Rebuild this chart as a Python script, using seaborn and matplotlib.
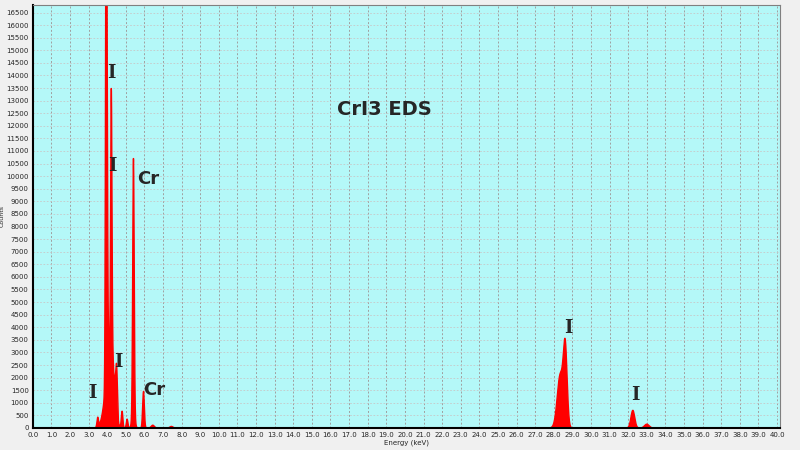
import numpy as np
import matplotlib
matplotlib.use("Agg")
import matplotlib.pyplot as plt
import seaborn as sns

sns.set_style("white")

# peak list: centre (keV), height (counts), width (keV)
peak_kev = [3.49, 3.94, 3.98, 4.12, 4.22, 4.30, 4.51, 4.43, 4.80, 5.07, 5.41, 5.95, 6.45, 7.45,
            4.10, 5.41, 28.35, 28.62, 32.25, 33.00]
peak_cts = [380, 15500, 10000, 800, 10800, 1200, 1800, 1000, 650, 350, 9900, 1450, 110, 60,
            2300, 800, 2100, 3000, 700, 150]
peak_wid = [0.04, 0.035, 0.04, 0.08, 0.035, 0.05, 0.04, 0.05, 0.04, 0.04, 0.04, 0.045, 0.08, 0.08,
            0.22, 0.07, 0.16, 0.10, 0.10, 0.12]

labels = ["I", "I", "Cr", "I", "I", "Cr", "I", "I"]
label_x = [4.25, 4.3, 6.2, 4.6, 3.2, 6.55, 28.8, 32.4]
label_y = [14100, 10400, 9900, 2600, 1400, 1500, 3950, 1300]
label_serif = [True, True, False, True, True, False, True, True]

energy = np.arange(0, 40.2, 0.005)
counts = np.zeros_like(energy)
for c, h, w in zip(peak_kev, peak_cts, peak_wid):
    counts += h * np.exp(-0.5 * ((energy - c) / w) ** 2)

fig = plt.figure(figsize=(8, 4.5), dpi=100, facecolor="#f0f0f0")
ax = fig.add_axes([0.041, 0.049, 0.934, 0.94])
ax.set_facecolor("#b4f8f8")
ax.fill_between(energy, counts, color="red", linewidth=0)
ax.plot(energy, counts, color="red", lw=1.0)

ax.set_xlim(0, 40.16)
ax.set_ylim(0, 16800)
ax.set_xticks(np.arange(0, 41, 1.0))
ax.set_xticklabels([f"{v:.1f}" for v in np.arange(0, 41, 1.0)], fontsize=5)
ax.set_yticks(np.arange(0, 16501, 500))
ax.set_yticklabels([str(v) for v in range(0, 16501, 500)], fontsize=5)
ax.tick_params(length=2, pad=1)
ax.xaxis.grid(True, color="#a0a0a0", linestyle=(0, (2, 2)), linewidth=0.7)
ax.yaxis.grid(True, color="#c8c8c8", linestyle=(0, (2, 2)), linewidth=0.6)
ax.set_xlabel("Energy (keV)", fontsize=5, labelpad=1)
ax.set_ylabel("Counts", fontsize=4.5, labelpad=1)
for s in ax.spines.values():
    s.set_color("#808080")
ax.spines["left"].set_color("black")
ax.spines["left"].set_linewidth(1.5)
ax.spines["bottom"].set_color("black")
ax.spines["bottom"].set_linewidth(1.5)

for t, x, y, serif in zip(labels, label_x, label_y, label_serif):
    ax.text(x, y, t, fontsize=13, fontweight="bold", ha="center", va="center",
            family="DejaVu Serif" if serif else "DejaVu Sans")
ax.text(18.9, 12650, "CrI3 EDS", fontsize=14, fontweight="bold", ha="center", va="center")

fig.savefig("out.png", dpi=100, facecolor=fig.get_facecolor())
